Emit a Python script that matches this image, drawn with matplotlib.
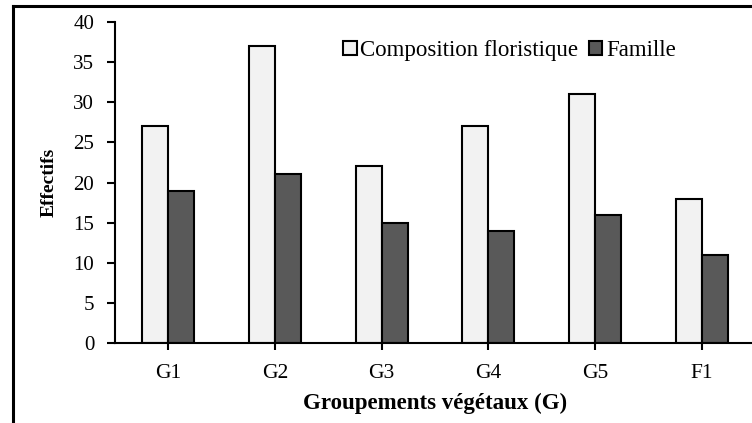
import matplotlib
matplotlib.use("Agg")
import matplotlib.pyplot as plt
from matplotlib.lines import Line2D
import numpy as np

categories = ["G1", "G2", "G3", "G4", "G5", "F1"]
composition = [27, 37, 22, 27, 31, 18]
famille = [19, 21, 15, 14, 16, 11]
yticks = [0, 5, 10, 15, 20, 25, 30, 35, 40]

plt.rcParams['font.family'] = ['Liberation Serif', 'DejaVu Serif']

fig = plt.figure(figsize=(7.52, 4.23), dpi=100)
W, H = 752, 423
left_px, right_px, top_px, bot_px = 115, 755, 22, 343
ax = fig.add_axes([left_px / W, 1 - bot_px / H, (right_px - left_px) / W, (bot_px - top_px) / H])

x = np.arange(len(categories))
w = 0.245
ax.bar(x - w / 2, composition, w, color="#f2f2f2", edgecolor="black", linewidth=1.5,
       label="Composition floristique")
ax.bar(x + w / 2, famille, w, color="#595959", edgecolor="black", linewidth=1.5,
       label="Famille")

ax.set_xlim(-0.5, len(categories) - 0.5)
ax.set_ylim(0, 40)
ax.set_yticks(yticks)
ax.set_xticks(x)
ax.set_xticklabels(categories)
for s in ["top", "right"]:
    ax.spines[s].set_visible(False)
for s in ["left", "bottom"]:
    ax.spines[s].set_linewidth(1.5)
ax.tick_params(axis="y", direction="out", length=6, width=1.5, labelsize=15, pad=9)
ax.tick_params(axis="x", direction="out", length=5, width=1.5, labelsize=15.5, pad=10)

ax.set_ylabel("Effectifs", fontsize=14, fontweight="bold", labelpad=11)
ax.set_xlabel("Groupements végétaux (G)", fontsize=16.5, fontweight="bold", labelpad=7)

leg = ax.legend(loc="upper left", bbox_to_anchor=(334 / W, 1 - 31 / H), bbox_transform=fig.transFigure,
                ncol=2, frameon=False, fontsize=16.5, handlelength=0.6, handleheight=0.6,
                handletextpad=0.15, columnspacing=0.45, borderaxespad=0)

# outer frame (left and top edges visible)
fig.add_artist(Line2D([13 / W, 13 / W], [0, 1 - 6 / H], transform=fig.transFigure, color="black", linewidth=2.2))
fig.add_artist(Line2D([13 / W, 1], [1 - 6 / H, 1 - 6 / H], transform=fig.transFigure, color="black", linewidth=2.2))

fig.savefig("out.png", dpi=100)
